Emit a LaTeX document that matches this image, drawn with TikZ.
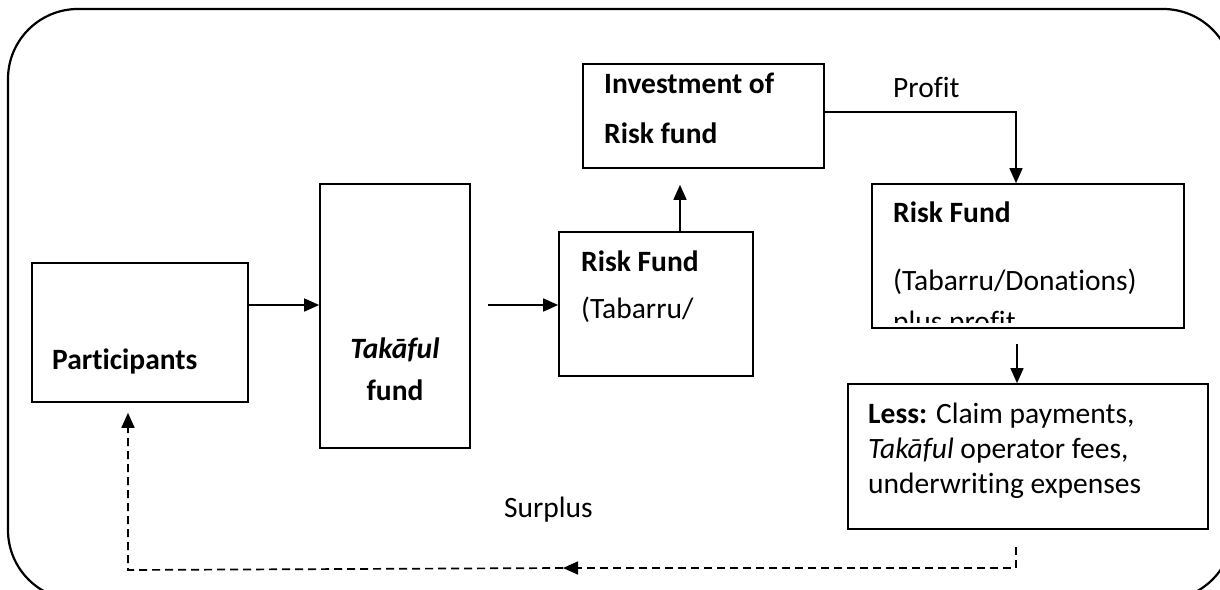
\documentclass[tikz,border=0pt]{standalone}
\usepackage{fontspec}
\setmainfont{Carlito}[Ligatures={NoCommon,NoContextual,NoRare},Contextuals=NoAlternate]
\usetikzlibrary{arrows.meta}
\newcommand{\nolig}{\kern0pt{}}
\begin{document}
\begin{tikzpicture}[x=1pt,y=-1pt,
  txt/.style={anchor=base west,inner sep=0pt,font=\fontsize{29.5}{35}\selectfont},
  ctxt/.style={anchor=base,inner sep=0pt,font=\fontsize{29.5}{35}\selectfont},
  boxs/.style={draw,line width=1.7pt,inner sep=0pt},
  arr/.style={line width=1.6pt,-{Triangle[length=15pt,width=13pt]}},
  darr/.style={line width=1.7pt,dash pattern=on 8pt off 5pt,-{Triangle[length=15pt,width=13pt]}},
  dline/.style={line width=1.7pt,dash pattern=on 8pt off 5pt}]
\useasboundingbox (0,0) rectangle (1220,589);
\clip (0,0) rectangle (1220,589);
\fill[white] (0,0) rectangle (1220,589);
\draw[line width=2.2pt,rounded corners=70pt] (8,9) rectangle (1233,600);
% boxes
\node[boxs,minimum width=216pt,minimum height=139pt] (part) at (140,332.5) {};
\node[boxs,minimum width=150pt,minimum height=264pt] (tak) at (395,316) {};
\node[boxs,minimum width=194pt,minimum height=144pt] (rf1) at (656,304) {};
\node[boxs,minimum width=241pt,minimum height=104pt] (inv) at (703.5,116) {};
\node[boxs,minimum width=312pt,minimum height=144pt] (rf2) at (1028,256) {};
\node[boxs,minimum width=360pt,minimum height=145pt] (less) at (1028,456.5) {};
% texts
\node[txt] (tpart) at (52,369) {\bfseries Participants};
\node[ctxt] (ttak1) at (395,358) {\bfseries\itshape Takāful};
\node[ctxt] (ttak2) at (395,400) {\bfseries fund};
\node[txt] (trf1a) at (581,271) {\bfseries Risk Fund};
\node[txt] (trf1b) at (581,318) {(Tabarru/};
\node[txt] (tinv1) at (604,93) {\bfseries Investment of};
\node[txt] (tinv2) at (604,143) {\bfseries Risk fund};
\node[txt] (tprofit) at (893,97) {Prof\nolig it};
\node[txt] (trf2a) at (893,222) {\bfseries Risk Fund};
\node[txt] (trf2b) at (893,290) {(Tabarru/Donations)};
\begin{scope}
\clip (880,300) rectangle (1180,322);
\node[txt] (trf2c) at (893,331) {plus prof\nolig it};
\end{scope}
\node[txt] (tless1) at (868,423) {\textbf{Less:} Claim payments,};
\node[txt] (tless2) at (868,458) {\textit{Takāful} operator fees,};
\node[txt] (tless3) at (868,493) {underwrit\nolig ing expenses};
\node[ctxt,anchor=base east] (tsurplus) at (593,517) {Surplus};
% arrows
\coordinate (pr) at (part.east |- 0,305);
\coordinate (tl) at (tak.west |- 0,305);
\draw[arr] (pr) -- (tl);
\draw[arr,shorten <=17pt] (tak.east |- 0,305) -- (rf1.west |- 0,305);
\draw[arr,shorten >=16pt] (rf1.north -| 680,0) -- (inv.south -| 680,0);
\coordinate (invr) at (inv.east |- 0,112);
\coordinate (rf2t) at (rf2.north -| 1016,0);
\draw[arr] (invr) -| (rf2t);
\draw[arr,shorten <=15pt] (rf2.south -| 1017,0) -- (less.north -| 1017,0);
\coordinate (s1) at (1016,547);
\coordinate (mid) at (563,568);
\draw[darr] (s1) |- (mid);
\draw[dline] (mid) -- (128,570) -- (128,425);
\draw[darr,shorten >=10pt] (128,430) -- (part.south -| 128,0);
\end{tikzpicture}
\end{document}
